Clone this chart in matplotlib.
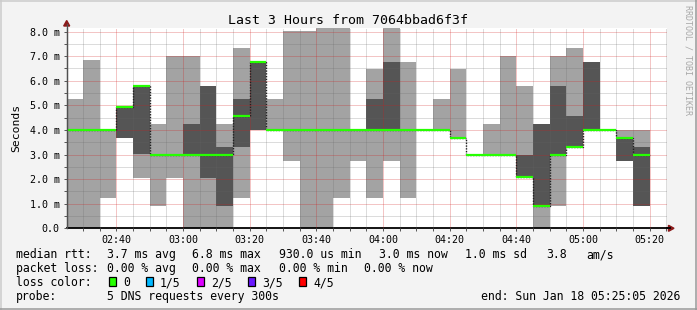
import matplotlib
matplotlib.use("Agg")
import matplotlib.pyplot as plt
from matplotlib.lines import Line2D
from matplotlib.patches import Polygon, Rectangle
import numpy as np

# ---- data (minutes since midnight; each bin is 5 minutes) ----
bin_start = 145  # 02:25
bin_width = 5
# per bin: lowest ping, 2nd ping, median, 4th ping, highest ping (ms)
ping_lo  = [0, 0, 1.25, 3.69, 2.06, 0.92, 2.06, 0, 0, 0, 1.25, 4.0, 4.0, 2.74, 0, 0, 1.25, 2.74,
            1.25, 2.74, 1.25, 4.0, 4.0, 3.69, 3.0, 3.0, 3.0, 2.08, 0, 0.92, 3.31, 4.0, 4.0, 2.74, 0.92]
ping_lo2 = [4.0, 4.0, 4.0, 3.69, 3.01, 3.0, 3.0, 3.0, 2.06, 0.92, 3.31, 4.0, 4.0, 4.0, 4.0, 4.0, 4.0, 4.0,
            4.0, 4.0, 4.0, 4.0, 4.0, 3.69, 3.0, 3.0, 3.0, 2.08, 0.92, 3.0, 3.31, 4.0, 4.0, 2.74, 0.92]
median   = [4.0, 4.0, 4.0, 4.95, 5.77, 3.0, 3.0, 3.0, 3.0, 3.0, 4.55, 6.76, 4.0, 4.0, 4.0, 4.0, 4.0, 4.0,
            4.0, 4.0, 4.0, 4.0, 4.0, 3.69, 3.0, 3.0, 3.0, 2.08, 0.92, 3.0, 3.31, 4.0, 4.0, 3.69, 3.0]
ping_hi2 = [4.0, 4.0, 4.0, 4.95, 5.77, 3.0, 3.0, 4.24, 5.79, 3.31, 5.26, 6.76, 4.0, 4.0, 4.0, 4.0, 4.0, 4.0,
            5.26, 6.78, 4.0, 4.0, 4.0, 3.69, 3.0, 3.0, 3.0, 3.0, 4.24, 5.79, 4.57, 6.76, 4.0, 3.69, 3.31]
ping_hi  = [5.26, 6.84, 4.0, 4.95, 5.77, 4.24, 7.0, 7.0, 5.79, 4.24, 7.33, 6.76, 5.26, 8.02, 8.02, 8.2, 8.2, 4.0,
            6.48, 8.2, 6.78, 4.0, 5.26, 6.48, 3.0, 4.24, 7.0, 5.79, 4.24, 7.0, 7.33, 6.76, 4.0, 4.0, 4.0]

x_ticks = [160, 180, 200, 220, 240, 260, 280, 300, 320]
x_ticklabels = ["02:40", "03:00", "03:20", "03:40", "04:00", "04:20", "04:40", "05:00", "05:20"]
y_ticks = [0, 1, 2, 3, 4, 5, 6, 7, 8]
y_ticklabels = ["0.0", "1.0 m", "2.0 m", "3.0 m", "4.0 m", "5.0 m", "6.0 m", "7.0 m", "8.0 m"]

title = "Last 3 Hours from 7064bbad6f3f"
legend_rows = [
    [(16, "median rtt:"), (107, "3.7 ms avg"), (192.4, "6.8 ms max"), (279, "930.0 us min"),
     (378.7, "3.0 ms now"), (465, "1.0 ms sd"), (546, "3.8"), (586.7, "am/s")],
    [(16, "packet loss:"), (107, "0.00 % avg"), (192.4, "0.00 % max"), (279, "0.00 % min"),
     (364.4, "0.00 % now")],
]
loss_labels = ["0", "1/5", "2/5", "3/5", "4/5"]
loss_colors = ["#26ff00", "#00b8ff", "#dd00ff", "#6a18ff", "#ff0000"]
probe_text = "5 DNS requests every 300s"
end_text = "end: Sun Jan 18 05:25:05 2026"

# ---- figure ----
W, H = 697, 310
fig = plt.figure(figsize=(W / 100, H / 100), dpi=100, facecolor="#f3f3f3")
mono = "DejaVu Sans Mono"

x0, x1 = 66.7, 666.7
y_bot, y_top = 228.3, 28.3
ax = fig.add_axes([x0 / W, 1 - y_bot / H, (x1 - x0) / W, (y_bot - y_top) / H])
ax.set_facecolor("white")

edges = bin_start + bin_width * np.arange(len(median) + 1)
lo = np.array(ping_lo); lo2 = np.array(ping_lo2); med = np.array(median)
hi2 = np.array(ping_hi2); hi = np.array(ping_hi)

ax.stairs(hi, edges, baseline=lo, fill=True, color="#a3a3a3", lw=0, zorder=1)
ax.stairs(hi2, edges, baseline=lo2, fill=True, color="#555555", lw=0, zorder=1.1)
ax.stairs(med, edges, baseline=None, color="#202020", lw=1.0, linestyle=(0, (1, 1)), zorder=3)
ax.hlines(med, edges[:-1], edges[1:], color="#26ff00", lw=1.6, zorder=4)

ax.set_xlim(145 + 5 / 60, 325 + 5 / 60)
ax.set_ylim(0, 8.135)

ax.set_xticks(x_ticks)
ax.set_xticklabels(x_ticklabels)
ax.set_xticks(np.arange(150, 326, 5), minor=True)
ax.set_yticks(y_ticks)
ax.set_yticklabels(y_ticklabels)
ax.set_yticks(np.arange(0.5, 8.1, 1.0), minor=True)

ax.set_axisbelow(False)
ax.grid(which="major", color=(0.82, 0.1, 0.1), alpha=0.5, lw=0.72, linestyle=(0, (1, 1)))
ax.grid(which="minor", color=(0.4, 0.4, 0.4), alpha=0.45, lw=0.72, linestyle=(0, (1, 1)))

ax.tick_params(which="both", length=2, width=0.7, color="#555555", direction="out",
               labelsize=7.2, pad=3)
ax.tick_params(axis="x", pad=2.5)
for lab in ax.get_xticklabels() + ax.get_yticklabels():
    lab.set_family(mono)

for s in ["top", "right"]:
    ax.spines[s].set_visible(False)
ax.spines["left"].set_color("#505050")
ax.spines["left"].set_linewidth(0.9)
ax.spines["bottom"].set_color("#000000")
ax.spines["bottom"].set_linewidth(1.3)

ax.set_ylabel("Seconds", family=mono, fontsize=8.2, labelpad=6)

def fx(px):
    return px / W

def fy(py):
    return 1 - py / H

# axis arrows
arrow_col = "#8b1a1a"
fig.add_artist(Line2D([fx(66.7), fx(66.7)], [fy(228.3), fy(24)], color="#505050", lw=0.9))
fig.add_artist(Polygon([[fx(63.7), fy(26)], [fx(69.7), fy(26)], [fx(66.7), fy(20.5)]],
                       closed=True, color=arrow_col, transform=fig.transFigure))
fig.add_artist(Line2D([fx(666.7), fx(670)], [fy(228.3), fy(228.3)], color="#000000", lw=1.3))
fig.add_artist(Polygon([[fx(668.5), fy(225.3)], [fx(668.5), fy(231.3)], [fx(674), fy(228.3)]],
                       closed=True, color=arrow_col, transform=fig.transFigure))

# title
fig.text(fx(347.8), fy(24), title, family=mono, fontsize=9.5, ha="center", va="baseline")

# watermark
fig.text(fx(688), fy(5), "RRDTOOL / TOBI OETIKER", family=mono, fontsize=6, color="#a8a8a8",
         rotation=270, ha="center", va="top")

# legend
baselines = [258, 272, 286, 300]
for row, yb in zip(legend_rows, baselines[:2]):
    for xp, txt in row:
        fig.text(fx(xp), fy(yb), txt, family=mono, fontsize=8.3, ha="left", va="baseline")

fig.text(fx(16), fy(baselines[2]), "loss color:", family=mono, fontsize=8.3, ha="left", va="baseline")
box_x = [108.9, 145.8, 196.9, 247.6, 299.0]
lab_x = [123.0, 160.0, 211.0, 261.8, 313.3]
for bx, lx, lab, col in zip(box_x, lab_x, loss_labels, loss_colors):
    fig.add_artist(Rectangle((fx(bx), fy(286)), 7 / W, 9 / H, facecolor=col, edgecolor="black",
                             lw=0.9, transform=fig.transFigure))
    fig.text(fx(lx), fy(baselines[2]), lab, family=mono, fontsize=8.3, ha="left", va="baseline")

fig.text(fx(16), fy(baselines[3]), "probe:", family=mono, fontsize=8.3, ha="left", va="baseline")
fig.text(fx(107), fy(baselines[3]), probe_text, family=mono, fontsize=8.3, ha="left", va="baseline")
fig.text(fx(680.5), fy(baselines[3]), end_text, family=mono, fontsize=8.3, ha="right", va="baseline")

# 3D frame around image
fig.add_artist(Line2D([0, 1], [fy(0.75), fy(0.75)], color="#cbcbcb", lw=1.1))
fig.add_artist(Line2D([fx(0.75), fx(0.75)], [0, 1], color="#cbcbcb", lw=1.1))
fig.add_artist(Line2D([0, 1], [fy(309.25), fy(309.25)], color="#999999", lw=1.1))
fig.add_artist(Line2D([fx(696.25), fx(696.25)], [0, 1], color="#999999", lw=1.1))

fig.savefig("out.png", dpi=100, facecolor=fig.get_facecolor())
